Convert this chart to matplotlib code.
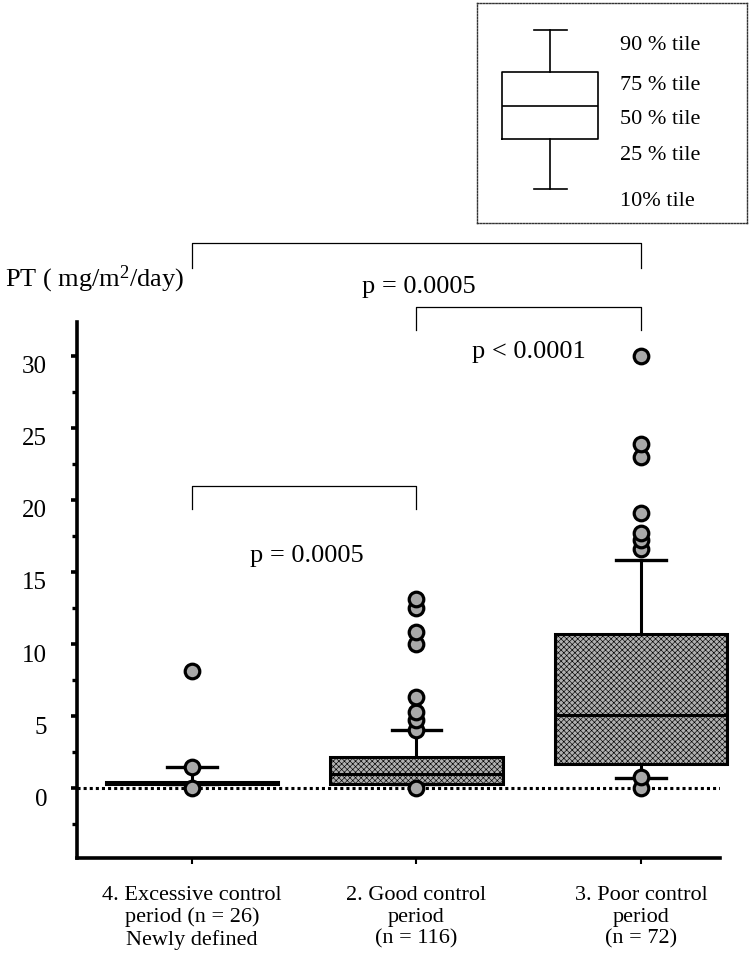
import numpy as np
import matplotlib
matplotlib.use("Agg")
import matplotlib.pyplot as plt
from matplotlib.ticker import MultipleLocator
from matplotlib.transforms import ScaledTranslation

plt.rcParams['font.family'] = ['Liberation Serif', 'DejaVu Serif']
plt.rcParams['mathtext.default'] = 'regular'
plt.rcParams['hatch.color'] = '#505050'
plt.rcParams['hatch.linewidth'] = 0.45

# data (mg/m2/day)
groups = ["4. Excessive control\nperiod (n = 26)\nNewly defined",
          "2. Good control\nperiod\n(n = 116)",
          "3. Poor control\nperiod\n(n = 72)"]
p10 = [0.3, 0.28, 0.7]
p25 = [0.3, 0.28, 1.7]
p50 = [0.36, 0.97, 5.05]
p75 = [0.42, 2.15, 10.7]
p90 = [1.45, 4.0, 15.8]
outliers = [
    [0.0, 1.45, 8.1],
    [0.0, 4.0, 4.7, 5.3, 6.3, 10.0, 10.8, 12.5, 13.1],
    [0.0, 0.75, 16.6, 17.2, 17.7, 19.1, 23.0, 23.9, 30.0],
]

# significance brackets: (left group, right group, bar height, leg bottom)
brackets = [
    (0, 2, 37.85, 36.1),
    (1, 2, 33.4, 31.8),
    (0, 1, 21.0, 19.4),
]
p_texts = [("p = 0.0005", 1.01, 34.8),
           ("p < 0.0001", 1.5, 30.3),
           ("p = 0.0005", 0.51, 16.1)]

legend_labels = ["90 % tile", "75 % tile", "50 % tile", "25 % tile", "10% tile"]
legend_label_y = [46, 86, 120, 155, 202]   # schematic key, pixel rows
legend_stats = dict(whishi=30, q3=72, med=106, q1=139, whislo=189)

fig = plt.figure(figsize=(7.56, 9.67), dpi=100)
ax = fig.add_axes([77 / 756, 109 / 967, 643 / 756, 536 / 967])

positions = np.arange(len(groups))
stats = []
for i in range(len(groups)):
    stats.append(dict(med=p50[i], q1=p25[i], q3=p75[i], whislo=p10[i],
                      whishi=p90[i], fliers=outliers[i]))

bp = ax.bxp(stats, positions=positions, widths=0.77, capwidths=0.22,
            patch_artist=True,
            boxprops=dict(facecolor='#b0b0b0', edgecolor='black', linewidth=2.2, hatch='xxxxxx'),
            medianprops=dict(color='black', linewidth=2.2),
            whiskerprops=dict(color='black', linewidth=2.2),
            capprops=dict(color='black', linewidth=2.4),
            flierprops=dict(marker='o', markersize=10.5, markerfacecolor='#a9a9a9',
                            markeredgecolor='black', markeredgewidth=2.3))
for key in ['boxes', 'medians', 'fliers']:
    for artist in bp[key]:
        artist.set_clip_on(False)
for fl in bp['fliers']:
    fl.set_zorder(5)

ax.axhline(0, color='black', lw=2.2, ls=(0, (1, 1)), zorder=1)

ax.set_xlim(-0.512, 2.352)
ax.set_ylim(-4.86, 32.36)
ax.spines['top'].set_visible(False)
ax.spines['right'].set_visible(False)
ax.spines['left'].set_linewidth(2.6)
ax.spines['bottom'].set_linewidth(2.6)

ax.set_yticks([0, 5, 10, 15, 20, 25, 30])
ax.yaxis.set_minor_locator(MultipleLocator(2.5))
ax.tick_params(axis='y', which='major', length=4.5, width=2.6, labelsize=18, pad=17)
ax.tick_params(axis='y', which='minor', length=3.5, width=2.4)
offset = ScaledTranslation(0, -9 / 100, fig.dpi_scale_trans)
for lab in ax.get_yticklabels():
    lab.set_transform(lab.get_transform() + offset)

ax.set_xticks(positions)
ax.set_xticklabels(groups, fontsize=16, linespacing=1.2)
ax.tick_params(axis='x', length=4, width=1.5, pad=16)

for g0, g1, top, bottom in brackets:
    ax.plot([positions[g0], positions[g0], positions[g1], positions[g1]],
            [bottom, top, top, bottom], color='black', lw=0.9, clip_on=False)
for txt, tx, ty in p_texts:
    ax.text(tx, ty, txt, ha='center', va='center', fontsize=19, clip_on=False)

fig.text(5 / 756, 1 - 279 / 967, "PT ( mg/m$^{2}$/day)", fontsize=19,
         ha='left', va='center')

# key for the box plot
kx = fig.add_axes([477 / 756, 1 - 223 / 967, 270 / 756, 220 / 967])
kx.bxp([dict(legend_stats, fliers=[])], positions=[550], widths=95, capwidths=33,
       showfliers=False,
       boxprops=dict(color='black', linewidth=1.2),
       medianprops=dict(color='black', linewidth=1.2),
       whiskerprops=dict(color='black', linewidth=1.2),
       capprops=dict(color='black', linewidth=1.2))
kx.set_xlim(477, 747)
kx.set_ylim(223, 3)
for lab, yy in zip(legend_labels, legend_label_y):
    kx.text(620, yy, lab, fontsize=16, ha='left', va='center')
kx.set_xticks([])
kx.set_yticks([])
kx.patch.set_alpha(0)
for sp in kx.spines.values():
    sp.set_linestyle((0, (1, 1.2)))
    sp.set_linewidth(1.0)
    sp.set_color('#333333')

fig.savefig("out.png", dpi=100)
